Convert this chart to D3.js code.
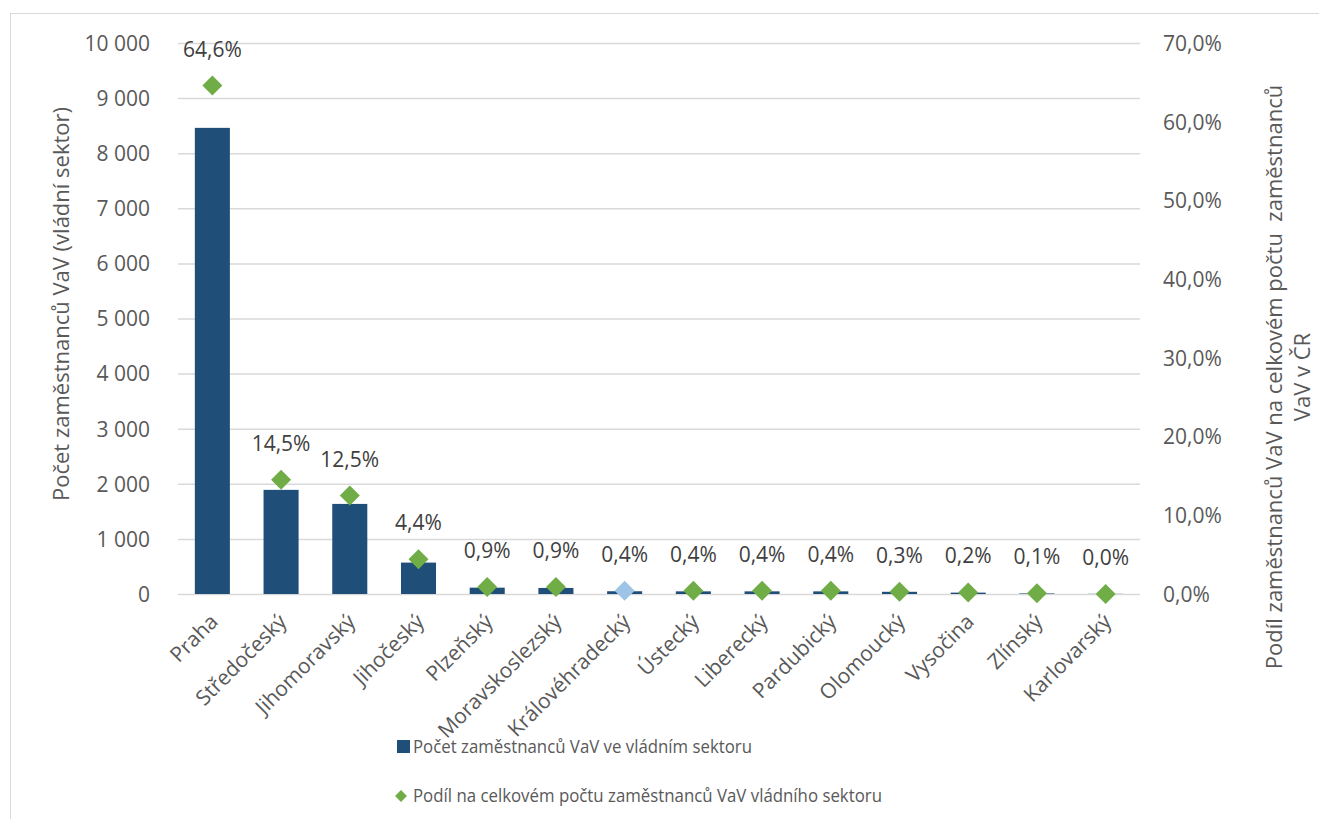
<!DOCTYPE html>
<html><head><meta charset="utf-8">
<script src="https://cdn.jsdelivr.net/npm/d3@7"></script>
<style>
body{margin:0;background:#fff;}
svg{font-family:"Open Sans",sans-serif;}
</style></head>
<body><svg id="c" width="1319" height="819"></svg>
<script>
const categories = ["Praha","Středočeský","Jihomoravský","Jihočeský","Plzeňský","Moravskoslezský","Královéhradecký","Ústecký","Liberecký","Pardubický","Olomoucký","Vysočina","Zlínský","Karlovarský"];
const employees = [8460, 1890, 1635, 570, 115, 110, 50, 48, 48, 48, 40, 25, 10, 3];
const shares = [64.6, 14.5, 12.5, 4.4, 0.9, 0.9, 0.4, 0.4, 0.4, 0.4, 0.3, 0.2, 0.1, 0.0];
const shareLabels = ["64,6%","14,5%","12,5%","4,4%","0,9%","0,9%","0,4%","0,4%","0,4%","0,4%","0,3%","0,2%","0,1%","0,0%"];
const leftTicks = [0,1000,2000,3000,4000,5000,6000,7000,8000,9000,10000];
const rightTicks = [0,10,20,30,40,50,60,70];
const highlighted = ["Královéhradecký"];
const seriesNames = ["Počet zaměstnanců VaV ve vládním sektoru","Podíl na celkovém počtu zaměstnanců VaV vládního sektoru"];

(function(){
const svg = d3.select("#c");
const pL = 178, pR = 1140, pT = 43, pB = 594;
const textColor = "#595959";
const barColor = "#1F4E79", ptColor = "#70AD47", hiColor = "#9DC3E6";

svg.append("rect").attr("x",10.5).attr("y",13.5).attr("width",1400).attr("height",1000)
  .attr("fill","none").attr("stroke","#d9d9d9").attr("stroke-width",1);

const x = d3.scaleBand().domain(categories).range([pL,pR]).paddingInner(0.49).paddingOuter(0.245);
const y = d3.scaleLinear().domain([0,10000]).range([pB,pT]);
const y2 = d3.scaleLinear().domain([0,70]).range([pB,pT]);

svg.append("g").selectAll("line").data(leftTicks).join("line")
  .attr("x1",pL).attr("x2",pR).attr("y1",d=>y(d)+0.5).attr("y2",d=>y(d)+0.5)
  .attr("stroke","#d9d9d9").attr("stroke-width",1.5);

const fmt = d => d3.format(",")(d).replace(/,/g," ");
const ax = svg.append("g").attr("transform",`translate(${pL-28},0)`)
  .call(d3.axisLeft(y).tickValues(leftTicks).tickFormat(fmt).tickSize(0).tickPadding(0));
ax.select(".domain").remove();
ax.selectAll("text").attr("fill",textColor).style("font-size","21px").style("font-family","Open Sans").attr("dy","0.35em");

const ax2 = svg.append("g").attr("transform",`translate(${pR+23},0)`)
  .call(d3.axisRight(y2).tickValues(rightTicks).tickFormat(d=>d.toFixed(1).replace(".",",")+"%").tickSize(0).tickPadding(0));
ax2.select(".domain").remove();
ax2.selectAll("text").attr("fill",textColor).style("font-size","21px").style("font-family","Open Sans").attr("dy","0.35em");

svg.append("g").selectAll("rect").data(categories).join("rect")
  .attr("x",d=>x(d)).attr("width",x.bandwidth())
  .attr("y",(d,i)=>y(employees[i])).attr("height",(d,i)=>pB-y(employees[i]))
  .attr("fill",barColor);

svg.append("g").selectAll("path").data(categories).join("path")
  .attr("d", d3.symbol().type(d3.symbolSquare).size(200))
  .attr("transform",(d,i)=>`translate(${x(d)+x.bandwidth()/2},${y2(shares[i])}) rotate(45)`)
  .attr("fill",d=>highlighted.includes(d)?hiColor:ptColor);

svg.append("g").selectAll("text").data(categories).join("text")
  .attr("x",d=>x(d)+x.bandwidth()/2).attr("y",(d,i)=>y2(shares[i])-29)
  .attr("text-anchor","middle").attr("fill","#404040").style("font-size","21px")
  .text((d,i)=>shareLabels[i]);

svg.append("g").selectAll("text").data(categories).join("text")
  .attr("transform",d=>`translate(${x(d)+x.bandwidth()/2+7},${pB+29}) rotate(-45)`)
  .attr("text-anchor","end").attr("fill",textColor).style("font-size","21px")
  .text(d=>d);

svg.append("text").attr("transform",`translate(69,304) rotate(-90)`)
  .attr("text-anchor","middle").attr("fill",textColor).style("font-size","22px")
  .text("Počet zaměstnanců VaV (vládní sektor)");
const rt = svg.append("text").attr("transform",`translate(1282,377) rotate(-90)`)
  .attr("text-anchor","middle").attr("fill",textColor).style("font-size","22px").style("white-space","pre");
rt.append("tspan").attr("x",0).attr("y",0).text("Podíl zaměstnanců VaV na celkovém počtu  zaměstnanců");
rt.append("tspan").attr("x",0).attr("y",28).text("VaV v ČR");

const lg = svg.append("g");
lg.append("rect").attr("x",397).attr("y",740).attr("width",13).attr("height",13).attr("fill",barColor);
lg.append("text").attr("x",413).attr("y",753).attr("fill",textColor).style("font-size","19px")
  .attr("textLength",339).attr("lengthAdjust","spacingAndGlyphs").text(seriesNames[0]);
lg.append("path").attr("d",d3.symbol().type(d3.symbolSquare).size(70))
  .attr("transform","translate(401,796) rotate(45)").attr("fill",ptColor);
lg.append("text").attr("x",413).attr("y",802).attr("fill",textColor).style("font-size","19px")
  .attr("textLength",469).attr("lengthAdjust","spacingAndGlyphs").text(seriesNames[1]);
})();
</script></body></html>
